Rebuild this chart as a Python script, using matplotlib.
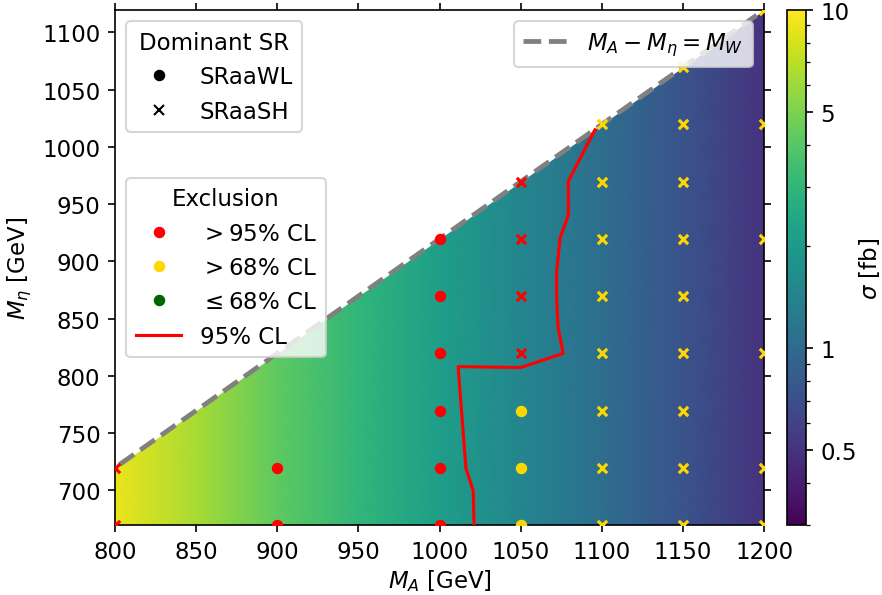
import numpy as np
import matplotlib
matplotlib.use("Agg")
import matplotlib.pyplot as plt
import matplotlib.ticker as mticker
from matplotlib.colors import LogNorm
from matplotlib.lines import Line2D

plt.rcParams["font.size"] = 11

M_W = 80.4

# cross section along M_A (fb)
M_A_grid = [800, 850, 900, 950, 1000, 1050, 1100, 1150, 1200]
sigma_fb = [9.0, 6.3, 4.2, 3.0, 2.1, 1.5, 1.05, 0.75, 0.5]
M_eta_range = [669.6, 1119.6]

# benchmark points
pt_MA = [800, 800,
         900, 900,
         1000, 1000, 1000, 1000, 1000, 1000,
         1050, 1050, 1050, 1050, 1050, 1050, 1050,
         1100, 1100, 1100, 1100, 1100, 1100, 1100, 1100,
         1150, 1150, 1150, 1150, 1150, 1150, 1150, 1150, 1150,
         1200, 1200, 1200, 1200, 1200, 1200]
pt_Meta = [669.6, 719.6,
           669.6, 719.6,
           669.6, 719.6, 769.6, 819.6, 869.6, 919.6,
           669.6, 719.6, 769.6, 819.6, 869.6, 919.6, 969.6,
           669.6, 719.6, 769.6, 819.6, 869.6, 919.6, 969.6, 1019.6,
           669.6, 719.6, 769.6, 819.6, 869.6, 919.6, 969.6, 1019.6, 1069.6,
           669.6, 719.6, 819.6, 919.6, 1019.6, 1119.6]
pt_SR = ["SH", "SH",
         "WL", "WL",
         "WL", "WL", "WL", "WL", "WL", "WL",
         "WL", "WL", "WL", "SH", "SH", "SH", "SH",
         "SH", "SH", "SH", "SH", "SH", "SH", "SH", "SH",
         "SH", "SH", "SH", "SH", "SH", "SH", "SH", "SH", "SH",
         "SH", "SH", "SH", "SH", "SH", "SH"]
pt_CL = ["95", "95",
         "95", "95",
         "95", "95", "95", "95", "95", "95",
         "68", "68", "68", "95", "95", "95", "95",
         "68", "68", "68", "68", "68", "68", "68", "68",
         "68", "68", "68", "68", "68", "68", "68", "68", "68",
         "68", "68", "68", "68", "68", "68"]

# 95% CL exclusion contour
cont_MA = [1021.3, 1020.8, 1016.3, 1011.5, 1050.0, 1076.2, 1073.0, 1072.2,
           1072.2, 1074.3, 1079.4, 1079.4, 1095.8]
cont_Meta = [669.6, 699.5, 719.0, 808.0, 807.2, 819.5, 843.0, 868.0,
             891.0, 920.4, 940.4, 970.0, 1015.0]

cl_colors = {"95": "red", "68": "gold", "low": "darkgreen"}
sr_markers = {"WL": "o", "SH": "x"}

fig = plt.figure(figsize=(5.88, 3.9733), dpi=150)
ax = fig.add_axes([115 / 882, 70 / 596, 649 / 882, 515 / 596])
cax = fig.add_axes([787 / 882, 70 / 596, 19 / 882, 515 / 596])

X, Y = np.meshgrid(M_A_grid, M_eta_range)
C = np.vstack([sigma_fb, sigma_fb])
norm = LogNorm(vmin=0.3, vmax=10)
mesh = ax.pcolormesh(X, Y, C, shading="gouraud", cmap="viridis", norm=norm,
                     zorder=0)

# kinematically closed region
xs = np.array([790, 1210])
ax.fill_between(xs, xs - M_W, 1200, color="white", lw=0, zorder=1)
ax.plot(xs, xs - M_W, "--", color="gray", lw=2.3, zorder=2)

pt_MA = np.array(pt_MA)
pt_Meta = np.array(pt_Meta)
pt_SR = np.array(pt_SR)
pt_CL = np.array(pt_CL)
for sr, mk in sr_markers.items():
    for cl, col in cl_colors.items():
        sel = (pt_SR == sr) & (pt_CL == cl)
        if sel.any():
            ax.scatter(pt_MA[sel], pt_Meta[sel], s=20, marker=mk, c=col,
                       zorder=3)

ax.plot(cont_MA, cont_Meta, color="red", lw=1.5, zorder=3)

ax.set_xlim(800, 1200)
ax.set_ylim(669.6, 1119.6)
ax.set_xticks(np.arange(800, 1201, 50))
ax.set_yticks(np.arange(700, 1101, 50))
ax.tick_params(top=True, right=True)
ax.set_xlabel(r"$M_A$ [GeV]", labelpad=2)
ax.set_ylabel(r"$M_\eta$ [GeV]")

sr_handles = [
    Line2D([], [], ls="none", marker="o", color="black", ms=4.5, label="SRaaWL"),
    Line2D([], [], ls="none", marker="x", color="black", ms=4.5, label="SRaaSH"),
]
leg1 = ax.legend(handles=sr_handles, title="Dominant SR", loc="upper left")
ax.add_artist(leg1)

cl_handles = [
    Line2D([], [], ls="none", marker="o", color="red", ms=4.5, label=r"$>95\%$ CL"),
    Line2D([], [], ls="none", marker="o", color="gold", ms=4.5, label=r"$>68\%$ CL"),
    Line2D([], [], ls="none", marker="o", color="darkgreen", ms=4.5, label=r"$\leq68\%$ CL"),
    Line2D([], [], color="red", lw=1.5, label="95% CL"),
]
leg2 = ax.legend(handles=cl_handles, title="Exclusion", loc="center left")
ax.add_artist(leg2)

line_handle = [Line2D([], [], ls="--", color="gray", lw=2.3,
                      label=r"$M_A - M_\eta = M_W$")]
ax.legend(handles=line_handle, loc="upper right")

cbar = fig.colorbar(mesh, cax=cax)
cbar.set_ticks([0.5, 1, 5, 10])
cbar.ax.yaxis.set_major_formatter(mticker.FormatStrFormatter("%g"))
cbar.ax.yaxis.set_minor_locator(mticker.LogLocator(base=10, subs=np.arange(2, 10)))
cbar.ax.yaxis.set_minor_formatter(mticker.NullFormatter())
cbar.set_label(r"$\sigma$ [fb]", labelpad=0)

fig.savefig("out.png", dpi=150)
